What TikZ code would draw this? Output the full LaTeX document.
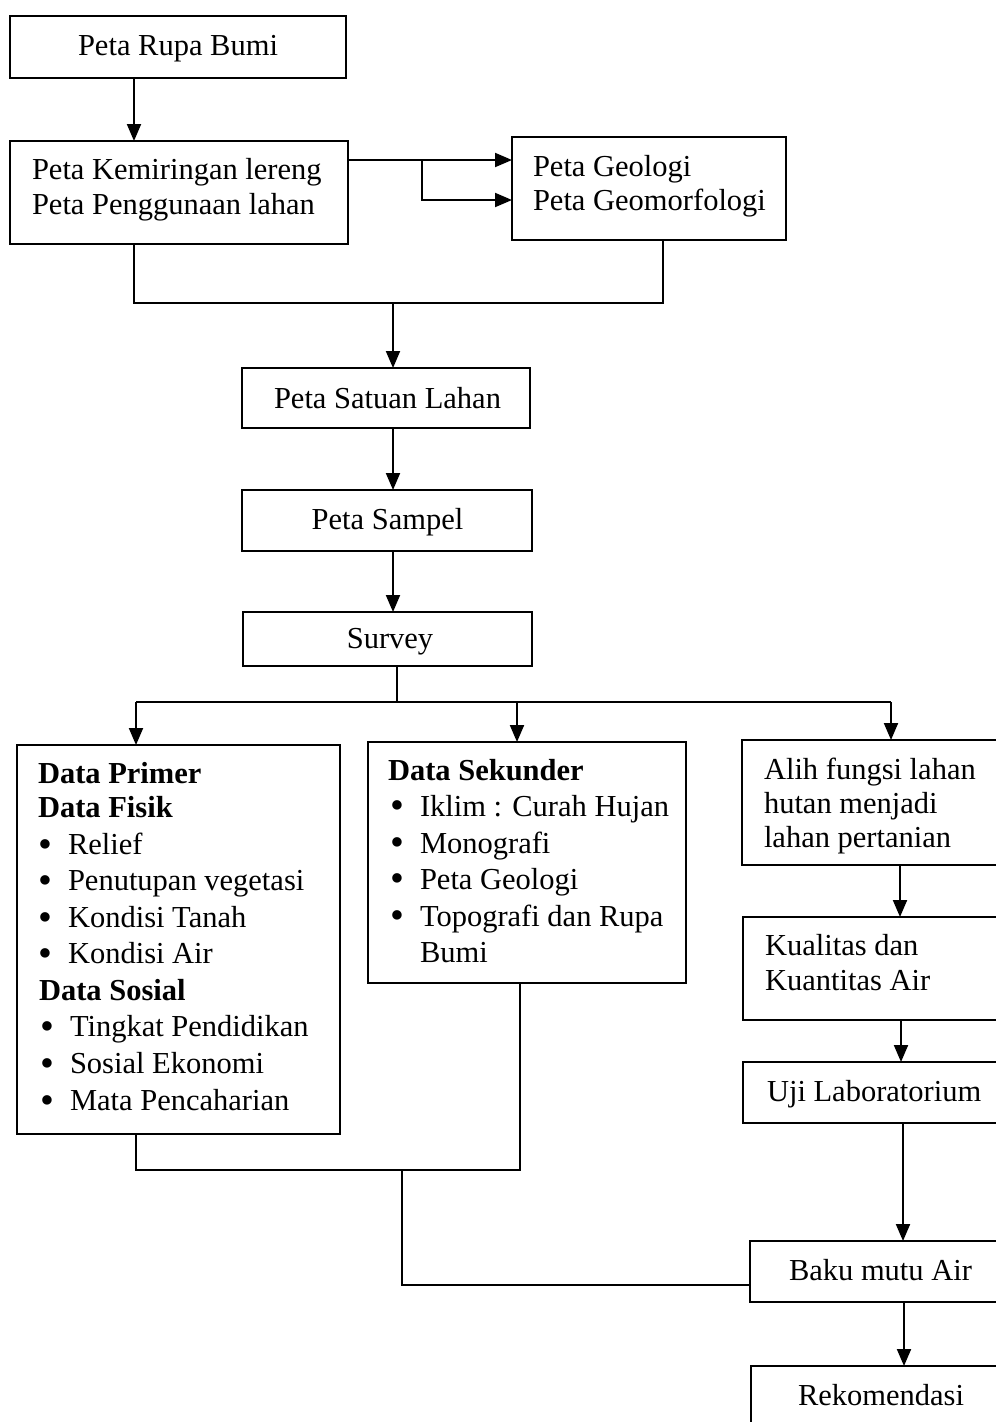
\documentclass[tikz,border=0pt]{standalone}
\usepackage{fontspec}
\setmainfont{Liberation Serif}
\usetikzlibrary{arrows.meta}
\newcommand\blt[1]{\llap{\raisebox{-2.5pt}{\scalebox{1.3}{•}}\hspace{16pt}}#1}
\begin{document}
\begin{tikzpicture}[x=1pt,y=-1pt,
  box/.style={draw, line width=2pt, inner sep=0pt, outer sep=0pt, anchor=north west},
  txt/.style={inner sep=0pt, outer sep=0pt, font=\fontsize{30.5}{36}\selectfont, anchor=base west},
  ctxt/.style={txt, anchor=base},
  btxt/.style={txt, font=\fontsize{30.5}{36}\selectfont\bfseries},
  line/.style={line width=2pt},
  arr/.style={line width=2pt, -{Triangle[length=17pt,width=14pt]}}]
\useasboundingbox (0,0) rectangle (996,1422);
% boxes
\node[box, minimum width=336pt, minimum height=62pt] (rupa) at (10,16) {};
\node[box, minimum width=338pt, minimum height=103pt] (kemir) at (10,141) {};
\node[box, minimum width=274pt, minimum height=103pt] (geo) at (512,137) {};
\node[box, minimum width=288pt, minimum height=60pt] (satuan) at (242,368) {};
\node[box, minimum width=290pt, minimum height=61pt] (sampel) at (242,490) {};
\node[box, minimum width=289pt, minimum height=54pt] (survey) at (243,612) {};
\node[box, minimum width=323pt, minimum height=389pt] (primer) at (17,745) {};
\node[box, minimum width=318pt, minimum height=241pt] (sekunder) at (368,742) {};
\node[box, minimum width=268pt, minimum height=125pt] (alih) at (742,740) {};
\node[box, minimum width=267pt, minimum height=103pt] (kual) at (743,917) {};
\node[box, minimum width=267pt, minimum height=61pt] (uji) at (743,1062) {};
\node[box, minimum width=260pt, minimum height=61pt] (baku) at (750,1241) {};
\node[box, minimum width=259pt, minimum height=80pt] (rekom) at (751,1366) {};
% texts
\node[ctxt] (t1) at (178,55) {Peta Rupa Bumi};
\node[txt] (t2) at (32,179) {Peta Kemiringan lereng};
\node[txt] (t3) at (32,214) {Peta Penggunaan lahan};
\node[txt] (t4) at (533,176) {Peta Geologi};
\node[txt] (t5) at (533,210) {Peta Geomorfologi};
\node[ctxt] (t6) at (387.5,408) {Peta Satuan Lahan};
\node[ctxt] (t7) at (387.5,529) {Peta Sampel};
\node[ctxt] (t8) at (390,648) {Survey};
\node[btxt] (p1) at (38,783.5) {Data Primer};
\node[btxt] (p2) at (38,817.5) {Data Fisik};
\node[txt] (p3) at (68,854.5) {\blt{Relief}};
\node[txt] (p4) at (68,890.5) {\blt{Penutupan vegetasi}};
\node[txt] (p5) at (68,927.5) {\blt{Kondisi Tanah}};
\node[txt] (p6) at (68,963.5) {\blt{Kondisi Air}};
\node[btxt] (p7) at (39,1000.5) {Data Sosial};
\node[txt] (p8) at (70,1036.5) {\blt{Tingkat Pendidikan}};
\node[txt] (p9) at (70,1073.5) {\blt{Sosial Ekonomi}};
\node[txt] (p10) at (70,1110.5) {\blt{Mata Pencaharian}};
\node[btxt] (s1) at (388,780) {Data Sekunder};
\node[txt] (s2) at (420,816) {\blt{Iklim : Curah Hujan}};
\node[txt] (s3) at (420,853) {\blt{Monografi}};
\node[txt] (s4) at (420,889) {\blt{Peta Geologi}};
\node[txt] (s5) at (420,926) {\blt{Topografi dan Rupa}};
\node[txt] (s6) at (420,962) {Bumi};
\node[txt] (a1) at (764,779) {Alih fungsi lahan};
\node[txt] (a2) at (764,813) {hutan menjadi};
\node[txt] (a3) at (764,847) {lahan pertanian};
\node[txt] (k1) at (765,955) {Kualitas dan};
\node[txt] (k2) at (765,990) {Kuantitas Air};
\node[txt] (u1) at (767,1101) {Uji Laboratorium};
\node[txt] (b1) at (789,1280) {Baku mutu Air};
\node[txt] (r1) at (798,1405) {Rekomendasi};
% helper coordinates
\coordinate (x134) at (134,0);
\coordinate (x422) at (422,0);
\coordinate (x663) at (663,0);
\coordinate (x393) at (393,0);
\coordinate (x397) at (397,0);
\coordinate (x136) at (136,0);
\coordinate (x517) at (517,0);
\coordinate (x891) at (891,0);
\coordinate (x900) at (900,0);
\coordinate (x901) at (901,0);
\coordinate (x903) at (903,0);
\coordinate (x904) at (904,0);
\coordinate (x520) at (520,0);
\coordinate (x402) at (402,0);
\coordinate (y160) at (0,160);
\coordinate (y200) at (0,200);
\coordinate (y303) at (0,303);
\coordinate (y702) at (0,702);
\coordinate (y1170) at (0,1170);
\coordinate (y1285) at (0,1285);
% connectors
\draw[arr] (x134 |- rupa.south) -- (x134 |- kemir.north);
\draw[arr] (kemir.east |- y160) -- (geo.west |- y160);
\draw[arr] (x422 |- y160) -- (x422 |- y200) -- (geo.west |- y200);
\draw[line] (x134 |- kemir.south) -- (x134 |- y303) -- (x663 |- y303) -- (x663 |- geo.south);
\draw[arr] (x393 |- y303) -- (x393 |- satuan.north);
\draw[arr] (x393 |- satuan.south) -- (x393 |- sampel.north);
\draw[arr] (x393 |- sampel.south) -- (x393 |- survey.north);
\draw[line] (x397 |- survey.south) -- (x397 |- y702);
\draw[line] (x136 |- y702) -- (x891 |- y702);
\draw[arr] (x136 |- y702) -- (x136 |- primer.north);
\draw[arr] (x517 |- y702) -- (x517 |- sekunder.north);
\draw[arr] (x891 |- y702) -- (x891 |- alih.north);
\draw[arr] (x900 |- alih.south) -- (x900 |- kual.north);
\draw[arr] (x901 |- kual.south) -- (x901 |- uji.north);
\draw[arr] (x903 |- uji.south) -- (x903 |- baku.north);
\draw[arr] (x904 |- baku.south) -- (x904 |- rekom.north);
\draw[line] (x136 |- primer.south) -- (x136 |- y1170) -- (x520 |- y1170) -- (x520 |- sekunder.south);
\draw[line] (x402 |- y1170) -- (x402 |- y1285) -- (baku.west |- y1285);
\end{tikzpicture}
\end{document}
